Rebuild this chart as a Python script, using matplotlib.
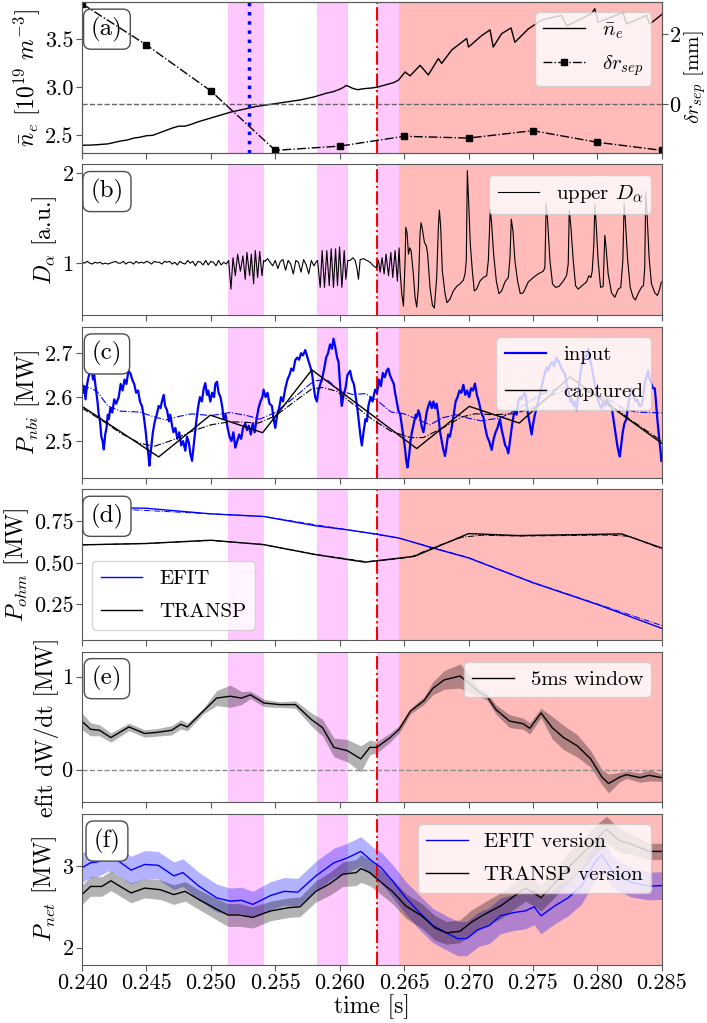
import numpy as np
import matplotlib
matplotlib.use("Agg")
import matplotlib.pyplot as plt
from matplotlib.ticker import FormatStrFormatter

plt.rcParams.update({
    "font.family": "serif",
    "font.serif": ["cmr10"],
    "mathtext.fontset": "cm",
    "axes.unicode_minus": False,
    "axes.formatter.use_mathtext": True,
    "axes.edgecolor": "0.35",
    "xtick.labelsize": 16,
    "ytick.labelsize": 16,
    "legend.fontsize": 15,
})

# --- time windows (ms) ---
osc_windows = [(251.30, 254.12), (258.26, 260.63), (262.88, 264.64)]
elm_start = 264.64
lh_time = 262.88
profile_time = 253.0

# --- (a) line averaged density and separatrix shift ---
ne_t = [240.0, 240.5, 241.0, 241.5, 242.0, 242.5, 243.0, 243.5, 244.0, 244.5,
        245.0, 245.5, 246.0, 246.5, 247.0, 247.5, 248.0, 248.5, 249.0, 249.5,
        250.0, 250.5, 251.0, 251.5, 252.0, 252.5, 253.0, 253.5, 254.0, 254.5,
        255.0, 255.5, 256.0, 256.5, 257.0, 257.5, 258.0, 258.5, 259.0, 259.5,
        260.0, 260.3, 260.5, 260.7, 261.0, 261.4, 261.8, 262.2, 262.6, 263.0,
        263.4, 263.8, 264.2, 264.56, 265.08, 265.47, 266.24, 266.88, 267.66, 267.92,
        268.70, 269.86, 270.00, 271.02, 271.67, 271.92, 272.57, 273.30, 273.60, 274.64,
        275.67, 276.19, 277.22, 277.61, 279.55, 279.80, 280.06, 282.00, 282.26, 283.81,
        284.07, 285.0]
ne_v = [2.396, 2.397, 2.400, 2.405, 2.410, 2.425, 2.440, 2.450, 2.470, 2.480,
        2.495, 2.500, 2.525, 2.550, 2.575, 2.595, 2.595, 2.615, 2.640, 2.660,
        2.680, 2.700, 2.720, 2.740, 2.755, 2.770, 2.785, 2.800, 2.810, 2.820,
        2.830, 2.840, 2.850, 2.860, 2.870, 2.885, 2.900, 2.920, 2.940, 2.955,
        2.980, 3.000, 3.020, 3.010, 2.990, 2.975, 2.985, 2.990, 2.995, 3.005,
        3.020, 3.035, 3.050, 3.075, 3.160, 3.120, 3.230, 3.130, 3.300, 3.250,
        3.390, 3.510, 3.420, 3.540, 3.600, 3.420, 3.560, 3.620, 3.470, 3.610,
        3.700, 3.720, 3.750, 3.640, 3.770, 3.820, 3.680, 3.780, 3.660, 3.750,
        3.660, 3.760]
dr_t = [240, 245, 250, 255, 260, 265, 270, 275, 280, 285]
dr_v = [2.86, 1.69, 0.38, -1.31, -1.19, -0.91, -0.96, -0.75, -1.08, -1.31]

# --- (b) upper D_alpha ---
da_quiet1 = [1.01, 1.00, 1.02, 1.00, 0.99, 1.01, 1.00, 1.01, 0.99, 1.00,
             0.99, 1.00, 1.01, 1.02, 1.00, 1.00, 1.02, 0.99, 1.01, 1.01,
             0.99, 1.02, 1.00, 1.01, 1.00, 1.02, 1.01, 0.99, 1.02, 1.01,
             1.01, 0.99, 1.02, 1.01, 1.02, 0.99, 1.01, 0.98, 1.02, 1.00,
             0.99, 1.03, 1.00, 1.02, 0.97, 1.02, 1.01, 0.98, 1.03, 0.98,
             1.02, 1.01, 0.97, 1.03, 0.98, 1.01, 0.99]
da_quiet2 = [1.02, 1.05, 1.01, 0.97, 1.03, 0.94, 1.02, 1.04, 0.92, 1.03,
             0.99, 0.88, 1.03, 1.01, 0.90, 1.04, 0.98, 0.88, 1.03, 0.97, 1.02]
da_tail_t = [251.38, 251.56, 251.72, 251.90, 252.08, 252.29, 252.49, 252.67, 252.80, 253.01,
             253.14, 253.32, 253.45, 253.63, 253.79, 253.97, 254.10]
da_tail_v = [1.03, 0.71, 1.06, 0.86, 1.10, 0.91, 1.08, 0.82, 1.12, 0.86,
             1.10, 0.77, 1.14, 0.84, 1.13, 0.86, 1.03]
da_mid_t = [258.28, 258.49, 258.64, 258.82, 259.00, 259.19, 259.34, 259.52, 259.68, 259.83,
            259.99, 260.17, 260.35, 260.48, 260.63, 260.81, 261.02, 261.20, 261.33, 261.46,
            261.59, 261.85, 262.11, 262.36, 262.62, 262.83, 263.01, 263.14, 263.29, 263.45,
            263.60, 263.79, 263.97, 264.12, 264.30, 264.48, 264.61]
da_mid_v = [1.03, 0.73, 1.14, 0.73, 1.14, 0.75, 1.16, 0.73, 1.16, 0.75,
            1.18, 0.73, 1.14, 0.82, 1.03, 1.03, 1.06, 1.03, 0.95, 0.82,
            1.04, 1.05, 1.03, 1.01, 0.97, 0.95, 1.03, 0.90, 1.06, 0.88,
            1.10, 0.86, 1.12, 0.84, 1.14, 0.80, 1.17]
elm_t = [264.69, 264.82, 264.95, 265.08, 265.13, 265.23, 265.34, 265.44, 265.54, 265.70,
         265.85, 265.98, 266.11, 266.24, 266.32, 266.42, 266.58, 266.73, 266.83, 267.01,
         267.20, 267.35, 267.53, 267.66, 267.74, 267.84, 267.97, 268.18, 268.33, 268.57,
         268.82, 269.08, 269.34, 269.60, 269.73, 269.83, 269.91, 270.01, 270.14, 270.30,
         270.45, 270.63, 270.89, 271.15, 271.41, 271.54, 271.69, 271.80, 271.95, 272.16,
         272.36, 272.57, 272.83, 273.09, 273.22, 273.32, 273.45, 273.60, 273.81, 274.02,
         274.25, 274.64, 275.03, 275.41, 275.80, 275.93, 276.03, 276.14, 276.32, 276.52,
         276.76, 277.02, 277.35, 277.61, 277.74, 277.82, 277.95, 278.13, 278.31, 278.51,
         278.82, 279.16, 279.34, 279.50, 279.60, 279.73, 279.81, 279.91, 280.06, 280.25,
         280.45, 280.58, 280.68, 280.84, 281.10, 281.36, 281.62, 281.82, 281.98, 282.08,
         282.18, 282.34, 282.55, 282.78, 282.96, 283.16, 283.42, 283.58, 283.68, 283.76,
         283.86, 284.02, 284.20, 284.46, 284.66, 284.84, 284.97]
elm_v = [0.91, 0.66, 0.52, 1.03, 1.40, 1.34, 1.10, 1.17, 1.14, 0.91,
         0.62, 0.51, 0.73, 1.34, 1.45, 1.38, 1.23, 1.19, 1.10, 0.73,
         0.53, 0.50, 0.84, 1.40, 1.59, 1.40, 0.91, 0.66, 0.56, 0.60,
         0.69, 0.74, 0.77, 0.81, 0.88, 1.03, 2.03, 1.69, 1.21, 0.91,
         0.69, 0.71, 0.80, 0.84, 0.86, 1.03, 1.60, 1.43, 1.10, 0.80,
         0.66, 0.69, 0.79, 0.84, 1.06, 1.49, 1.36, 1.03, 0.80, 0.66,
         0.67, 0.79, 0.84, 0.88, 0.91, 0.95, 1.66, 1.47, 1.03, 0.77,
         0.73, 0.74, 0.80, 0.86, 0.99, 1.59, 1.40, 1.03, 0.75, 0.71,
         0.75, 0.79, 0.86, 0.84, 0.91, 1.21, 1.66, 1.43, 1.03, 0.73,
         0.74, 1.31, 1.17, 0.88, 0.67, 0.62, 0.71, 0.73, 1.03, 1.67,
         1.47, 1.06, 0.73, 0.62, 0.59, 0.66, 0.73, 0.75, 0.95, 1.80,
         1.54, 1.06, 0.77, 0.67, 0.64, 0.71, 0.79]

# --- (c) NBI power: (time ms, MW) ---
nbi_input = [
    (240.00, 2.632), (240.10, 2.610), (240.18, 2.625), (240.27, 2.595), (240.40, 2.630),
    (240.50, 2.645), (240.60, 2.655), (240.74, 2.669), (240.85, 2.640), (240.95, 2.650),
    (241.05, 2.625), (241.20, 2.590), (241.30, 2.560), (241.40, 2.545), (241.50, 2.510),
    (241.60, 2.500), (241.69, 2.481), (241.80, 2.515), (241.90, 2.530), (242.00, 2.560),
    (242.08, 2.550), (242.20, 2.575), (242.35, 2.565), (242.50, 2.595), (242.65, 2.585),
    (242.85, 2.600), (243.00, 2.630), (243.15, 2.615), (243.30, 2.640), (243.45, 2.630),
    (243.60, 2.660), (243.76, 2.654), (243.90, 2.640), (244.05, 2.630), (244.20, 2.610),
    (244.35, 2.615), (244.50, 2.590), (244.66, 2.579), (244.80, 2.555), (244.95, 2.520),
    (245.05, 2.490), (245.15, 2.470), (245.23, 2.444), (245.35, 2.480), (245.50, 2.520),
    (245.65, 2.545), (245.80, 2.560), (245.95, 2.580), (246.10, 2.575), (246.20, 2.590),
    (246.34, 2.605), (246.45, 2.580), (246.60, 2.570), (246.75, 2.545), (246.85, 2.560),
    (246.99, 2.535), (247.10, 2.520), (247.25, 2.530), (247.40, 2.505), (247.55, 2.520),
    (247.70, 2.490), (247.85, 2.500), (248.02, 2.478), (248.15, 2.510), (248.30, 2.495),
    (248.42, 2.470), (248.54, 2.455), (248.70, 2.500), (248.85, 2.540), (249.00, 2.575),
    (249.15, 2.600), (249.30, 2.590), (249.45, 2.620), (249.57, 2.632), (249.70, 2.605),
    (249.80, 2.615), (249.96, 2.590), (250.10, 2.610), (250.25, 2.600), (250.35, 2.630),
    (250.48, 2.635), (250.60, 2.610), (250.75, 2.600), (250.90, 2.575), (250.99, 2.550),
    (251.15, 2.560), (251.30, 2.530), (251.45, 2.510), (251.60, 2.500), (251.75, 2.520),
    (251.90, 2.485), (252.05, 2.500), (252.20, 2.515), (252.35, 2.505), (252.50, 2.530),
    (252.67, 2.540), (252.80, 2.525), (252.95, 2.535), (253.10, 2.515), (253.25, 2.540),
    (253.40, 2.520), (253.55, 2.550), (253.70, 2.575), (253.85, 2.590), (254.00, 2.600),
    (254.09, 2.617), (254.25, 2.600), (254.40, 2.610), (254.55, 2.585), (254.74, 2.580),
    (254.85, 2.555), (255.00, 2.530), (255.15, 2.560), (255.30, 2.575), (255.45, 2.600),
    (255.60, 2.590), (255.78, 2.620), (255.95, 2.640), (256.10, 2.650), (256.25, 2.665),
    (256.40, 2.660), (256.55, 2.684), (256.70, 2.690), (256.85, 2.685), (257.00, 2.700),
    (257.15, 2.695), (257.33, 2.707), (257.50, 2.690), (257.71, 2.670), (257.85, 2.655),
    (258.00, 2.620), (258.10, 2.600), (258.23, 2.590), (258.35, 2.615), (258.50, 2.630),
    (258.62, 2.640), (258.80, 2.665), (258.95, 2.690), (259.10, 2.700), (259.25, 2.720),
    (259.40, 2.710), (259.52, 2.733), (259.65, 2.715), (259.80, 2.690), (259.91, 2.680),
    (260.05, 2.620), (260.16, 2.580), (260.30, 2.605), (260.45, 2.620), (260.60, 2.650),
    (260.81, 2.660), (260.95, 2.640), (261.10, 2.630), (261.20, 2.610), (261.35, 2.580),
    (261.50, 2.540), (261.62, 2.510), (261.72, 2.490), (261.85, 2.520), (262.00, 2.550),
    (262.12, 2.545), (262.23, 2.580), (262.40, 2.600), (262.55, 2.590), (262.75, 2.617),
    (262.90, 2.610), (263.05, 2.640), (263.20, 2.625), (263.35, 2.655), (263.50, 2.645),
    (263.65, 2.660), (263.78, 2.665), (263.90, 2.650), (264.05, 2.640), (264.20, 2.630),
    (264.30, 2.610), (264.43, 2.590), (264.55, 2.570), (264.70, 2.560), (264.85, 2.530),
    (265.00, 2.500), (265.08, 2.481), (265.17, 2.455), (265.26, 2.440), (265.40, 2.470),
    (265.50, 2.500), (265.60, 2.519), (265.75, 2.540), (265.90, 2.560), (266.00, 2.555),
    (266.11, 2.570), (266.22, 2.560), (266.35, 2.535), (266.50, 2.520), (266.62, 2.540),
    (266.75, 2.565), (266.88, 2.580), (267.01, 2.590), (267.15, 2.575), (267.28, 2.590),
    (267.40, 2.575), (267.53, 2.585), (267.65, 2.560), (267.80, 2.520), (267.95, 2.495),
    (268.05, 2.480), (268.18, 2.466), (268.30, 2.490), (268.42, 2.515), (268.55, 2.510),
    (268.69, 2.530), (268.85, 2.560), (269.00, 2.590), (269.15, 2.600), (269.30, 2.615),
    (269.45, 2.610), (269.60, 2.628), (269.75, 2.605), (269.90, 2.615), (270.05, 2.600),
    (270.20, 2.620), (270.35, 2.615), (270.50, 2.631), (270.65, 2.605), (270.80, 2.590),
    (270.95, 2.570), (271.05, 2.560), (271.15, 2.555), (271.30, 2.530), (271.45, 2.510),
    (271.60, 2.500), (271.70, 2.490), (271.80, 2.480), (271.95, 2.505), (272.10, 2.520),
    (272.25, 2.530), (272.44, 2.550), (272.58, 2.525), (272.70, 2.510), (272.85, 2.490),
    (272.97, 2.485), (273.09, 2.472), (273.22, 2.500), (273.35, 2.530), (273.48, 2.555),
    (273.60, 2.570), (273.73, 2.560), (273.86, 2.590), (274.00, 2.600), (274.12, 2.595),
    (274.25, 2.605), (274.38, 2.610), (274.50, 2.590), (274.62, 2.560), (274.75, 2.540),
    (274.90, 2.515), (275.02, 2.540), (275.15, 2.560), (275.28, 2.575), (275.40, 2.590),
    (275.54, 2.605), (275.68, 2.625), (275.80, 2.640), (275.93, 2.655), (276.06, 2.668),
    (276.20, 2.660), (276.35, 2.675), (276.50, 2.680), (276.65, 2.670), (276.84, 2.690),
    (277.00, 2.680), (277.15, 2.670), (277.30, 2.660), (277.48, 2.654), (277.62, 2.630),
    (277.78, 2.610), (277.90, 2.590), (278.02, 2.595), (278.15, 2.580), (278.28, 2.590),
    (278.39, 2.570), (278.50, 2.600), (278.62, 2.640), (278.77, 2.670), (278.90, 2.680),
    (279.03, 2.695), (279.16, 2.690), (279.29, 2.710), (279.42, 2.690), (279.55, 2.670),
    (279.68, 2.650), (279.81, 2.630), (279.95, 2.610), (280.08, 2.590), (280.20, 2.580),
    (280.32, 2.575), (280.45, 2.590), (280.60, 2.580), (280.75, 2.595), (280.90, 2.580),
    (281.10, 2.580), (281.25, 2.550), (281.40, 2.520), (281.55, 2.490), (281.65, 2.475),
    (281.74, 2.465), (281.85, 2.490), (281.97, 2.520), (282.10, 2.540), (282.26, 2.550),
    (282.38, 2.580), (282.50, 2.600), (282.64, 2.620), (282.80, 2.605), (282.95, 2.590),
    (283.10, 2.595), (283.25, 2.580), (283.42, 2.580), (283.55, 2.600), (283.68, 2.630),
    (283.80, 2.645), (283.94, 2.660), (284.07, 2.640), (284.20, 2.630), (284.33, 2.620),
    (284.46, 2.620), (284.55, 2.590), (284.64, 2.555), (284.72, 2.530), (284.82, 2.500),
    (284.90, 2.480), (284.97, 2.455),
]
inp_smooth_t = [240.0, 240.6, 241.2, 242.0, 243.0, 244.5, 245.5, 246.5, 247.5, 248.5,
                250.0, 251.5, 252.8, 253.8, 255.0, 256.5, 258.0, 259.0, 260.0, 261.0,
                262.0, 263.0, 264.0, 265.0, 266.0, 267.0, 268.0, 269.0, 270.0, 271.0,
                272.5, 273.5, 274.5, 275.5, 277.0, 278.5, 280.0, 281.0, 282.0, 283.0, 285.0]
inp_smooth_v = [2.618, 2.622, 2.612, 2.580, 2.568, 2.566, 2.556, 2.548, 2.556, 2.562,
                2.558, 2.565, 2.558, 2.550, 2.565, 2.600, 2.637, 2.640, 2.615, 2.606,
                2.608, 2.590, 2.566, 2.562, 2.550, 2.537, 2.553, 2.560, 2.552, 2.546,
                2.553, 2.568, 2.585, 2.605, 2.620, 2.622, 2.605, 2.592, 2.574, 2.566, 2.564]
cap_t = [240.0, 245.95, 249.96, 254.02, 257.84, 265.98, 270.06, 273.94, 275.93, 277.87, 285.0]
cap_v = [2.579, 2.464, 2.559, 2.519, 2.662, 2.483, 2.579, 2.541, 2.594, 2.646, 2.495]
cap_smooth_t = [240.0, 241.5, 243.0, 244.5, 245.6, 247.0, 248.5, 250.0, 251.5, 252.5,
                253.7, 255.0, 256.5, 257.8, 258.7, 259.8, 261.0, 262.5, 264.0, 265.5,
                266.5, 268.0, 269.5, 270.5, 272.0, 273.5, 275.0, 276.5, 278.0, 279.0,
                280.5, 282.5, 285.0]
cap_smooth_v = [2.575, 2.548, 2.518, 2.495, 2.488, 2.502, 2.522, 2.537, 2.544, 2.543,
                2.541, 2.557, 2.590, 2.618, 2.622, 2.613, 2.585, 2.550, 2.522, 2.508,
                2.508, 2.530, 2.555, 2.562, 2.560, 2.562, 2.575, 2.605, 2.620, 2.615,
                2.595, 2.550, 2.500]

# --- (d) ohmic power ---
efit_t = [240.0, 244.96, 249.99, 254.12, 258.13, 260.58, 262.85, 264.60, 267.22, 270.01,
          275.01, 279.97, 285.0]
efit_v = [0.836, 0.830, 0.796, 0.780, 0.724, 0.700, 0.674, 0.650, 0.590, 0.530,
          0.380, 0.250, 0.105]
efit_fit_t = [240.0, 254.12, 264.60, 267.22, 270.01, 275.01, 279.97, 285.0]
efit_fit_v = [0.836, 0.780, 0.650, 0.592, 0.532, 0.382, 0.253, 0.122]
transp_t = [240.0, 244.96, 249.99, 254.12, 258.13, 261.98, 262.85, 265.82, 270.01, 273.86,
            281.89, 285.0]
transp_v = [0.609, 0.617, 0.637, 0.610, 0.550, 0.504, 0.513, 0.540, 0.677, 0.665,
            0.675, 0.590]
transp_fit_t = [240.0, 245.0, 250.0, 254.0, 258.0, 262.0, 263.5, 265.5, 267.5, 269.5,
                271.0, 274.0, 281.0, 282.5, 285.0]
transp_fit_v = [0.609, 0.617, 0.635, 0.612, 0.553, 0.508, 0.515, 0.535, 0.600, 0.655,
                0.667, 0.662, 0.668, 0.660, 0.585]

# --- (e) dW/dt from EFIT, 5 ms window ---
dw_t = [240.0, 240.66, 241.36, 242.24, 243.64, 244.86, 245.73, 246.96, 247.66, 248.18,
        249.41, 250.45, 251.50, 252.38, 253.08, 254.13, 255.35, 256.57, 257.80, 258.67,
        259.55, 260.59, 261.64, 262.34, 262.87, 263.92, 264.62, 265.49, 266.54, 267.24,
        268.11, 269.34, 270.03, 270.73, 271.43, 272.13, 273.18, 274.23, 274.76, 275.63,
        276.50, 277.38, 278.43, 279.48, 280.35, 280.87, 281.75, 282.27, 283.32, 284.02, 285.0]
dw_v = [0.520, 0.435, 0.424, 0.346, 0.460, 0.390, 0.400, 0.424, 0.488, 0.460,
        0.630, 0.770, 0.790, 0.770, 0.805, 0.717, 0.700, 0.700, 0.540, 0.452,
        0.240, 0.205, 0.117, 0.240, 0.240, 0.346, 0.435, 0.630, 0.742, 0.876,
        0.965, 1.007, 0.930, 0.840, 0.790, 0.647, 0.523, 0.495, 0.445, 0.610,
        0.452, 0.346, 0.258, 0.117, -0.078, -0.148, -0.078, -0.053, -0.085, -0.060, -0.085]
dw_err = [0.09, 0.07, 0.06, 0.05, 0.04, 0.04, 0.04, 0.05, 0.05, 0.04,
          0.03, 0.08, 0.12, 0.07, 0.04, 0.04, 0.03, 0.04, 0.07, 0.09,
          0.10, 0.12, 0.14, 0.08, 0.06, 0.05, 0.04, 0.03, 0.04, 0.07,
          0.10, 0.13, 0.10, 0.05, 0.04, 0.05, 0.07, 0.06, 0.06, 0.05,
          0.12, 0.13, 0.12, 0.09, 0.08, 0.10, 0.05, 0.04, 0.05, 0.06, 0.04]

# --- (f) net heating power ---
pe_t = [240.0, 240.66, 241.19, 242.06, 242.59, 243.81, 244.86, 245.91, 247.13, 247.83,
        249.06, 250.45, 251.50, 252.38, 253.25, 254.65, 255.70, 256.75, 258.15, 259.55,
        260.59, 261.64, 262.52, 263.22, 264.09, 265.14, 266.19, 267.24, 268.29, 269.16,
        269.86, 270.73, 271.61, 272.48, 273.53, 274.41, 275.10, 275.63, 276.68, 277.73,
        278.78, 279.83, 280.35, 281.22, 282.62, 284.02, 285.0]
pe_v = [2.98, 3.04, 3.05, 3.12, 3.09, 2.95, 3.02, 3.01, 2.88, 2.92,
        2.755, 2.61, 2.57, 2.58, 2.53, 2.64, 2.69, 2.68, 2.88, 3.04,
        3.10, 3.18, 3.06, 2.98, 2.82, 2.61, 2.43, 2.27, 2.18, 2.11,
        2.11, 2.22, 2.27, 2.39, 2.43, 2.45, 2.50, 2.39, 2.51, 2.61,
        2.755, 3.05, 3.14, 2.92, 2.80, 2.755, 2.76]
pe_err = [0.18, 0.18, 0.18, 0.18, 0.18, 0.17, 0.17, 0.17, 0.17, 0.17,
          0.17, 0.17, 0.16, 0.16, 0.16, 0.17, 0.17, 0.17, 0.18, 0.18,
          0.18, 0.18, 0.18, 0.19, 0.20, 0.20, 0.21, 0.21, 0.21, 0.21,
          0.21, 0.21, 0.22, 0.22, 0.22, 0.22, 0.22, 0.22, 0.22, 0.22,
          0.22, 0.22, 0.21, 0.19, 0.18, 0.17, 0.17]
pt_t = [240.0, 240.66, 241.54, 242.24, 243.81, 244.86, 246.08, 247.13, 248.0, 249.06,
        250.45, 251.33, 252.20, 253.25, 254.65, 256.05, 256.92, 258.15, 259.20, 260.24,
        261.29, 261.64, 262.34, 263.22, 264.09, 265.14, 266.36, 267.41, 268.29, 269.34,
        270.21, 271.26, 272.48, 273.53, 274.41, 275.10, 275.63, 276.50, 277.73, 279.13,
        280.17, 280.70, 281.75, 282.62, 284.02, 285.0]
pt_v = [2.65, 2.75, 2.75, 2.82, 2.67, 2.73, 2.71, 2.65, 2.69, 2.59,
        2.47, 2.40, 2.40, 2.37, 2.45, 2.49, 2.50, 2.69, 2.78, 2.90,
        2.92, 2.97, 2.92, 2.80, 2.69, 2.51, 2.39, 2.24, 2.18, 2.20,
        2.31, 2.41, 2.51, 2.63, 2.73, 2.67, 2.61, 2.755, 2.98, 3.20,
        3.37, 3.45, 3.31, 3.27, 3.18, 3.18]
pt_err = [0.12, 0.12, 0.12, 0.12, 0.12, 0.12, 0.12, 0.12, 0.12, 0.12,
          0.13, 0.14, 0.14, 0.13, 0.12, 0.12, 0.12, 0.13, 0.14, 0.15,
          0.16, 0.17, 0.16, 0.15, 0.15, 0.15, 0.15, 0.15, 0.14, 0.14,
          0.15, 0.15, 0.16, 0.16, 0.16, 0.16, 0.16, 0.17, 0.18, 0.18,
          0.17, 0.16, 0.15, 0.12, 0.10, 0.10]


def sec(ms):
    return np.asarray(ms, dtype=float) / 1000.0


def shade(ax):
    for a, b in osc_windows:
        ax.axvspan(a / 1e3, b / 1e3, color="magenta", alpha=0.21, lw=0)
    ax.axvspan(elm_start / 1e3, 0.285, color="red", alpha=0.27, lw=0)
    ax.axvline(lh_time / 1e3, color="red", ls="-.", lw=1.5)


def tag(ax, s):
    ax.text(0.043, 0.82, s, transform=ax.transAxes, fontsize=18, ha="center", va="center",
            zorder=10, bbox=dict(boxstyle="round,pad=0.3", fc="white", ec="0.3"))


fig, axes = plt.subplots(6, 1, figsize=(7.07, 10.23), dpi=100, sharex=True)
fig.subplots_adjust(left=0.116, right=0.936, top=0.998, bottom=0.057, hspace=0.077)

for ax in axes:
    shade(ax)
    ax.tick_params(direction="out", length=4, color="0.35", pad=2)
    ax.set_xlim(0.240, 0.285)
axes[-1].set_xticks(np.arange(0.240, 0.2851, 0.005))
axes[-1].xaxis.set_major_formatter(FormatStrFormatter("%.3f"))

# (a)
ax = axes[0]
ax.axvline(profile_time / 1e3, color="blue", ls=":", lw=2.5)
l_ne, = ax.plot(sec(ne_t), ne_v, color="black", lw=1.0, label=r"$\bar{n}_e$")
ax.set_ylim(2.317, 3.89)
ax.set_yticks([2.5, 3.0, 3.5])
ax.yaxis.set_major_formatter(FormatStrFormatter("%.1f"))
ax.set_ylabel(r"$\bar{n}_e\ [10^{19}\ m^{-3}]$", fontsize=17, labelpad=2)
ax2 = ax.twinx()
ax2.axhline(0, color="0.4", ls="--", lw=1.0)
l_dr, = ax2.plot(sec(dr_t), dr_v, color="black", ls="-.", lw=1.0, marker="s", ms=4,
                 label=r"$\delta r_{sep}$")
ax2.set_ylim(-1.38, 2.91)
ax2.set_yticks([0, 2])
ax2.tick_params(direction="out", length=4, color="0.35", pad=1)
ax2.set_ylabel(r"$\delta r_{sep}$ [mm]", fontsize=15, labelpad=1)
ax2.legend(handles=[l_ne, l_dr], loc="upper right", framealpha=0.8, labelspacing=0.6)
tag(ax, "(a)")

# (b)
ax = axes[1]
da_t = np.concatenate([240.0 + 0.2 * np.arange(len(da_quiet1)), da_tail_t,
                       254.2 + 0.2 * np.arange(len(da_quiet2)), da_mid_t, elm_t])
da_v = np.concatenate([da_quiet1, da_tail_v, da_quiet2, da_mid_v, elm_v])
ax.plot(sec(da_t), da_v, color="black", lw=0.8, label=r"upper $D_\alpha$")
ax.set_ylim(0.42, 2.1)
ax.set_yticks([1, 2])
ax.set_ylabel(r"$D_\alpha$ [a.u.]", fontsize=17, labelpad=2)
ax.legend(loc="upper right", framealpha=0.8)
tag(ax, "(b)")

# (c)
ax = axes[2]
inp_t, inp_v = zip(*nbi_input)
ax.plot(sec(inp_t), inp_v, color="blue", lw=1.6, label="input")
ax.plot(sec(inp_smooth_t), inp_smooth_v, color="blue", ls="-.", lw=0.8)
ax.plot(sec(cap_t), cap_v, color="black", lw=1.0, label="captured")
ax.plot(sec(cap_smooth_t), cap_smooth_v, color="black", ls="-.", lw=0.8)
ax.set_ylim(2.417, 2.76)
ax.set_yticks([2.5, 2.6, 2.7])
ax.yaxis.set_major_formatter(FormatStrFormatter("%.1f"))
ax.set_ylabel(r"$P_{nbi}$ [MW]", fontsize=17, labelpad=2)
ax.legend(loc="upper right", framealpha=0.8, labelspacing=0.9)
tag(ax, "(c)")

# (d)
ax = axes[3]
ax.plot(sec(efit_t), efit_v, color="blue", lw=1.0, label="EFIT")
ax.plot(sec(efit_fit_t), efit_fit_v, color="blue", ls="-.", lw=0.7)
ax.plot(sec(transp_t), transp_v, color="black", lw=1.0, label="TRANSP")
ax.plot(sec(transp_fit_t), transp_fit_v, color="black", ls="-.", lw=0.7)
ax.set_ylim(0.035, 0.945)
ax.set_yticks([0.25, 0.50, 0.75])
ax.yaxis.set_major_formatter(FormatStrFormatter("%.2f"))
ax.set_ylabel(r"$P_{ohm}$ [MW]", fontsize=17, labelpad=2)
ax.legend(loc="lower left", framealpha=0.8, labelspacing=0.7)
tag(ax, "(d)")

# (e)
ax = axes[4]
dwt = sec(dw_t)
dwv = np.array(dw_v)
dwe = np.array(dw_err)
ax.axhline(0, color="0.55", ls="--", lw=1.0)
ax.fill_between(dwt, dwv - dwe, dwv + dwe, color="black", alpha=0.3, lw=0)
ax.plot(dwt, dwv, color="black", lw=1.0, label="5ms window")
ax.set_ylim(-0.35, 1.27)
ax.set_yticks([0, 1])
ax.set_ylabel("efit dW/dt [MW]", fontsize=17, labelpad=2)
ax.legend(loc="upper right", framealpha=0.8)
tag(ax, "(e)")

# (f)
ax = axes[5]
pet, pev, pee = sec(pe_t), np.array(pe_v), np.array(pe_err)
ptt, ptv, pte = sec(pt_t), np.array(pt_v), np.array(pt_err)
ax.fill_between(pet, pev - pee, pev + pee, color="blue", alpha=0.3, lw=0)
ax.fill_between(ptt, ptv - pte, ptv + pte, color="black", alpha=0.3, lw=0)
ax.plot(pet, pev, color="blue", lw=1.0, label="EFIT version")
ax.plot(ptt, ptv, color="black", lw=1.0, label="TRANSP version")
ax.set_ylim(1.79, 3.64)
ax.set_yticks([2, 3])
ax.set_ylabel(r"$P_{net}$ [MW]", fontsize=17, labelpad=2)
ax.set_xlabel("time [s]", fontsize=17, labelpad=1)
ax.legend(loc="upper right", framealpha=0.8, labelspacing=0.7)
tag(ax, "(f)")

fig.savefig("out.png", dpi=100)
